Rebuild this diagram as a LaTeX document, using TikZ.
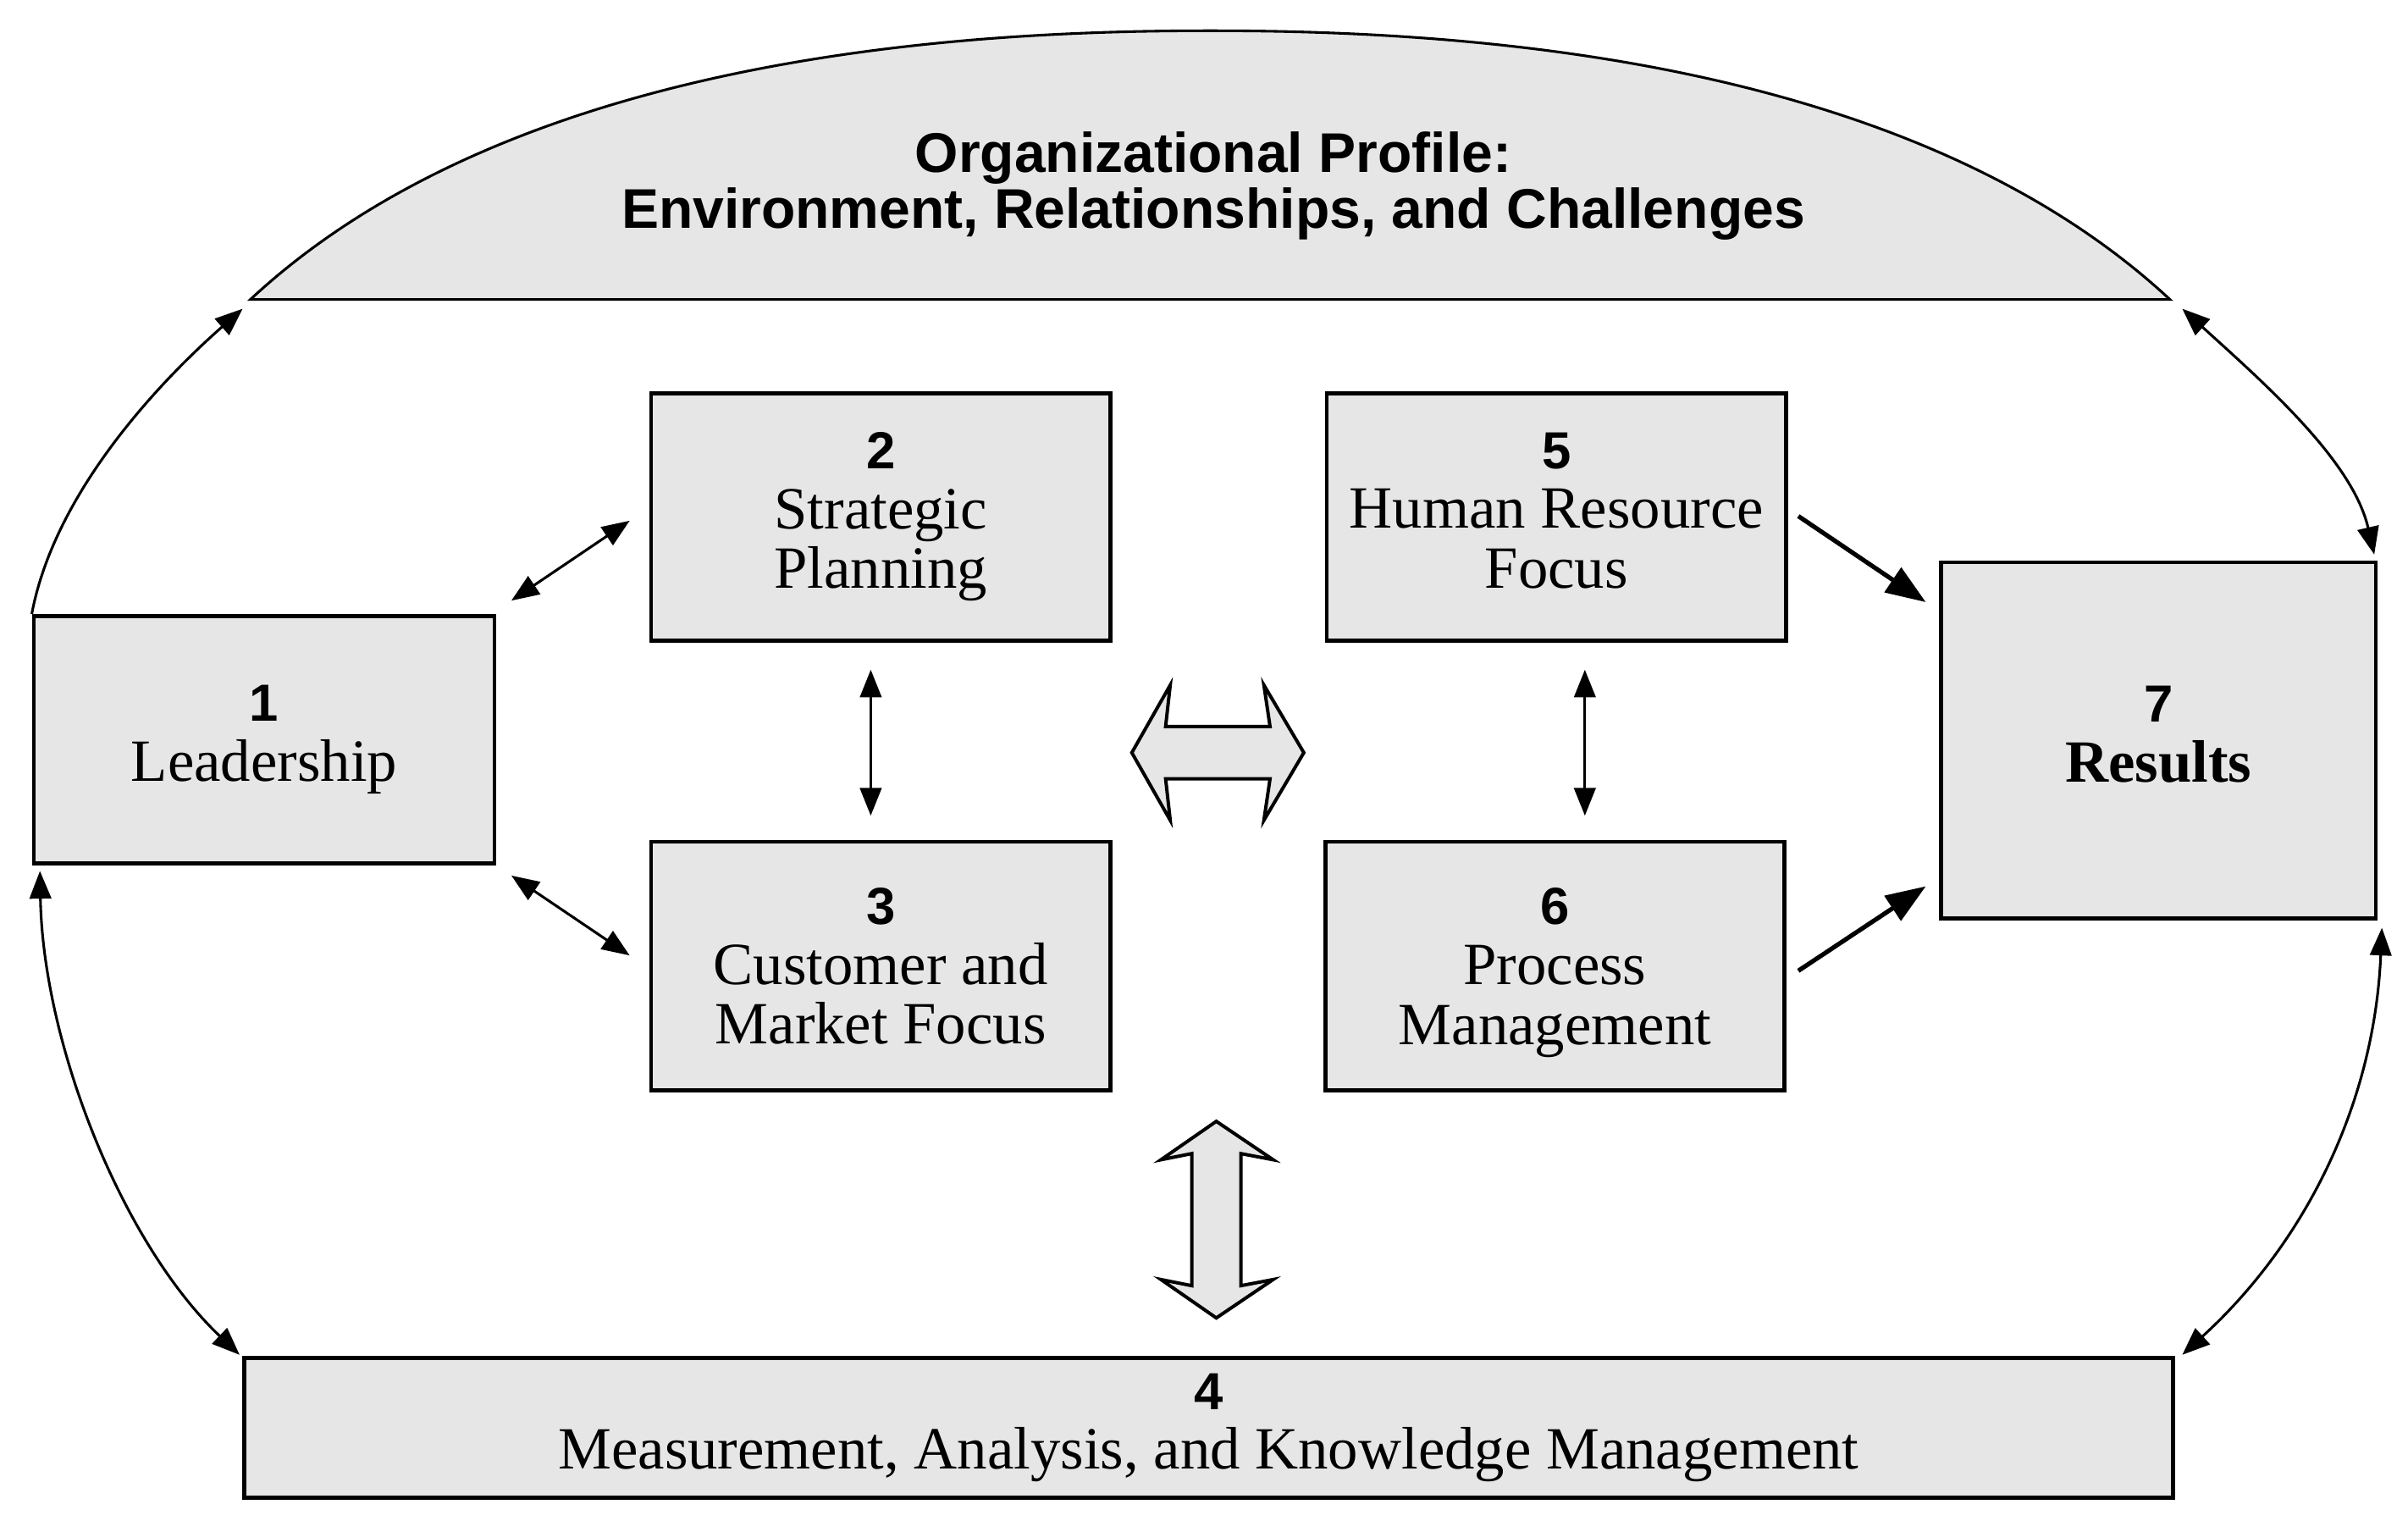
\documentclass[tikz,border=0pt]{standalone}
\usepackage{fontspec}
\setmainfont{Liberation Serif}
\newfontfamily\hvfont{Liberation Sans}
\usetikzlibrary{arrows.meta}
\definecolor{boxgray}{RGB}{230,230,230}
\newcommand{\numf}{\hvfont\bfseries\fontsize{17}{19.5}\selectfont}
\begin{document}
\begin{tikzpicture}[x=0.5pt,y=-0.5pt,
  box/.style={draw=black, line width=1.3pt, fill=boxgray, inner sep=0pt, align=center,
    font=\fontsize{19.5}{19.5}\selectfont},
  conn/.style={draw=black, line width=0.85pt},
  onehead/.style={-{Triangle[length=9pt,width=7pt]}},
  twoheads/.style={{Triangle[length=9pt,width=7pt]}-{Triangle[length=9pt,width=7pt]}},
  heavy/.style={draw=black, line width=1.45pt, -{Triangle[length=13pt,width=9.5pt]}},
  bigarrow/.style={draw=black, line width=1.1pt, fill=boxgray, miter limit=6}]
\useasboundingbox (0,0) rectangle (1568,997);

% organizational profile arch
\coordinate (archL) at (163,195);
\coordinate (archR) at (1413,195);
\coordinate (archT) at (788,20);
\draw[line width=0.85pt, fill=boxgray] (archL) .. controls (335,35) and (630,20) .. (archT)
  .. controls (946,20) and (1241,35) .. (archR) -- cycle;
\node[font=\hvfont\bfseries\fontsize{18.2}{18}\selectfont, align=center] (title) at (790,121)
  {Organizational Profile:\\Environment, Relationships, and Challenges};

% boxes
\node[box, minimum width=150pt, minimum height=80.5pt] (lead) at (172,481.5) {{\numf 1}\\Leadership};
\node[box, minimum width=149.5pt, minimum height=80.5pt] (strat) at (573.5,336.5) {{\numf 2}\\Strategic\\Planning};
\node[box, minimum width=149.5pt, minimum height=81pt] (cust) at (573.5,629) {{\numf 3}\\Customer and\\Market Focus};
\node[box, minimum width=149.5pt, minimum height=80.5pt] (hr) at (1013.5,336.5) {{\numf 5}\\Human Resource\\Focus\vphantom{g}};
\node[box, minimum width=149.5pt, minimum height=81pt] (proc) at (1012.5,629) {{\numf 6}\\Process\\\smash{Management}};
\node[box, minimum width=141.5pt, minimum height=116pt] (res) at (1405.5,482) {{\numf 7}\\\textbf{Results}\vphantom{g}};
\node[box, minimum width=628pt, minimum height=45.5pt] (meas) at (787,929.5) {{\numf 4}\\Measurement, Analysis, and Knowledge Management};

% connector end points
\coordinate (aL) at (158,201);
\coordinate (aR) at (1421,201);
\coordinate (resNE) at (1546,361);
\coordinate (resSE) at (1551,604);
\coordinate (leadSW) at (26,567);
\coordinate (measNW) at (156,882);
\coordinate (measNE) at (1421,882);
\coordinate (ls1) at (333,391);
\coordinate (ls2) at (410,339);
\coordinate (lc1) at (333,570);
\coordinate (lc2) at (410,622);
\coordinate (sc1) at (567,436);
\coordinate (sc2) at (567,531);
\coordinate (hp1) at (1032,436);
\coordinate (hp2) at (1032,531);
\coordinate (hr1) at (1171,336);
\coordinate (hr2) at (1254,392);
\coordinate (pr1) at (1171,632);
\coordinate (pr2) at (1254,577);

% outer curves
\draw[conn, onehead] (lead.north west) .. controls (36,318) and (108,245) .. (aL);
\draw[conn, twoheads] (aR) .. controls (1475,250) and (1532,300) .. (resNE);
\draw[conn, twoheads] (leadSW) .. controls (28,680) and (80,810) .. (measNW);
\draw[conn, twoheads] (resSE) .. controls (1546,720) and (1500,810) .. (measNE);

% inner connectors
\draw[conn, twoheads] (ls1) -- (ls2);
\draw[conn, twoheads] (lc1) -- (lc2);
\draw[conn, twoheads] (sc1) -- (sc2);
\draw[conn, twoheads] (hp1) -- (hp2);
\draw[heavy] (hr1) -- (hr2);
\draw[heavy] (pr1) -- (pr2);

% block arrows
\draw[bigarrow] (737,490) -- (762,446) -- (759,473) -- (827,473) -- (823,446) -- (849,490)
  -- (823,534) -- (827,507) -- (759,507) -- (762,534) -- cycle;
\draw[bigarrow] (792,730) -- (829,755) -- (808,751) -- (808,837) -- (829,833) -- (792,858)
  -- (756,833) -- (776,837) -- (776,751) -- (756,755) -- cycle;
\end{tikzpicture}
\end{document}
